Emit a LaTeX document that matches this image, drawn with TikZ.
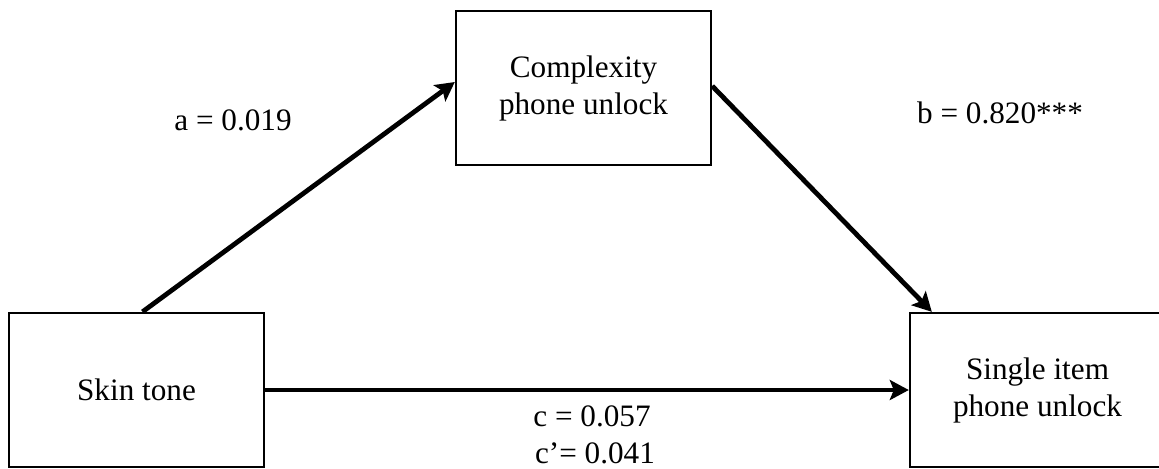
\documentclass[tikz,border=0pt]{standalone}
\usepackage{fontspec}
\setmainfont{Liberation Serif}
\usetikzlibrary{arrows.meta}
\begin{document}
\begin{tikzpicture}[x=0.5pt, y=-0.5pt,
  varbox/.style={draw, line width=1.2pt, minimum width=127.5pt, minimum height=77pt,
    align=center, font=\fontsize{15.6}{18.5}\selectfont},
  coef/.style={anchor=base, font=\fontsize{15.6}{18.5}\selectfont},
  effect/.style={line width=2.4pt, -{Stealth[length=9.5pt, width=10pt, inset=2pt]}}]
  \useasboundingbox (0,0) rectangle (1159,468);
  %Mediator
  \node [varbox]
  (cplx)at(583.5,88){Complexity\\phone unlock};
  %Predictor
  \node [varbox]
  (skin)at(136.5,390){Skin tone};
  %Outcome
  \node [varbox]
  (single)at(1037.5,390){Single item\\phone unlock};
  %Paths
  \draw [effect]([xshift=3pt]skin.north)--([yshift=3pt]cplx.west);
  \draw [effect]([yshift=1pt]cplx.east)--([xshift=11.5pt]single.north west);
  \draw [effect](skin.east)--(single.west);
  %Coefficients
  \node [coef] (alab)at(233,130){a = 0.019};
  \node [coef] (blab)at(1000,123){b = 0.820***};
  \node [coef] (clab)at(592,426){c = 0.057};
  \node [coef] (cplab)at(595,463){c’= 0.041};
\end{tikzpicture}
\end{document}
